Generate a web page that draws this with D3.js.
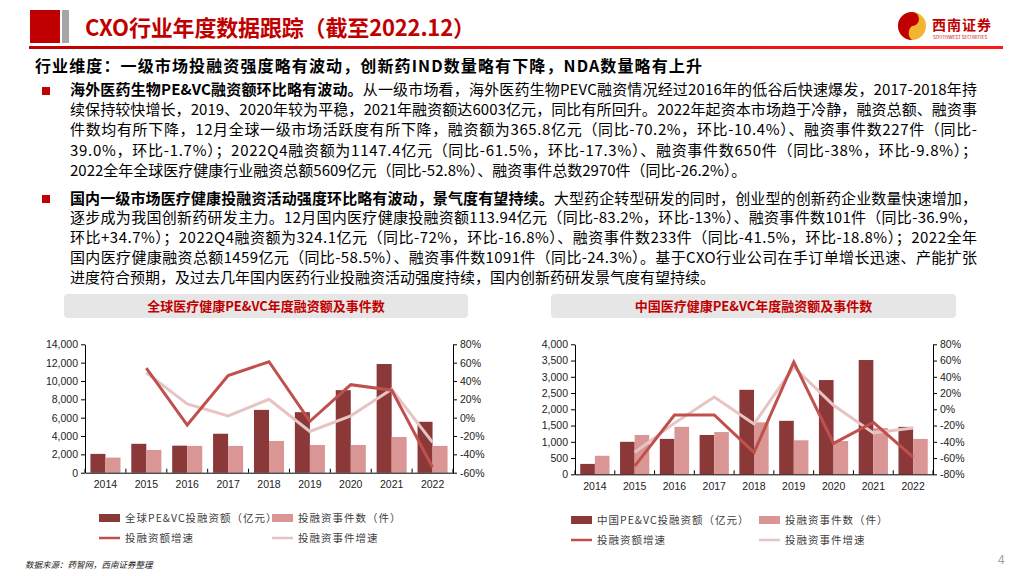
<!DOCTYPE html>
<html>
<head>
<meta charset="utf-8">
<script src="https://cdn.jsdelivr.net/npm/d3@7"></script>
<style>
  html, body { margin: 0; padding: 0; background: #fff; }
  svg text { font-family: "Noto Sans CJK SC", "Noto Sans", sans-serif; }
  .tick text { font-family: "Liberation Sans", Arial, sans-serif; font-size: 10.5px; fill: #222; }
  .legend text { font-size: 10.5px; fill: #404040; letter-spacing: 1px; }
</style>
</head>
<body>
<div id="slide"></div>
<script>
var years = ["2014", "2015", "2016", "2017", "2018", "2019", "2020", "2021", "2022"];

// global PE&VC
var globalAmount = [2050, 3150, 2950, 4250, 6850, 6600, 9000, 11850, 5550];
var globalDeals = [1650, 2480, 2920, 2920, 3460, 3020, 3020, 3890, 2920];
var globalAmountGrowth = [null, 54, -8, 46, 61, -4, 36, 30, -54];
var globalDealsGrowth = [null, 49, 15, 2, 20, -15, 2, 31, -27];

// china PE&VC
var chinaAmount = [320, 1000, 1090, 1210, 2600, 1645, 2900, 3516, 1459];
var chinaDeals = [570, 1210, 1460, 1300, 1600, 1046, 1025, 1420, 1088];
var chinaAmountGrowth = [null, -70, -7, -7, -53, 58, -42, -16, -59];
var chinaDealsGrowth = [null, -53, -17, 15, -18, 52, 5, -29, -23];

var globalLeftTicks = [0, 2000, 4000, 6000, 8000, 10000, 12000, 14000];
var globalRightTicks = [-60, -40, -20, 0, 20, 40, 60, 80];
var chinaLeftTicks = [0, 500, 1000, 1500, 2000, 2500, 3000, 3500, 4000];
var chinaRightTicks = [-80, -60, -40, -20, 0, 20, 40, 60, 80];

var para1 = [
  ["海外医药生物PE&VC融资额环比略有波动。", "从一级市场看，海外医药生物PEVC融资情况经过2016年的低谷后快速爆发，2017-2018年持"],
  ["", "续保持较快增长，2019、2020年较为平稳，2021年融资额达6003亿元，同比有所回升。2022年起资本市场趋于冷静，融资总额、融资事"],
  ["", "件数均有所下降，12月全球一级市场活跃度有所下降，融资额为365.8亿元（同比-70.2%，环比-10.4%）、融资事件数227件（同比-"],
  ["", "39.0%，环比-1.7%）；2022Q4融资额为1147.4亿元（同比-61.5%，环比-17.3%）、融资事件数650件（同比-38%，环比-9.8%）；"],
  ["", "2022全年全球医疗健康行业融资总额5609亿元（同比-52.8%）、融资事件总数2970件（同比-26.2%）。"]
];
var para2 = [
  ["国内一级市场医疗健康投融资活动强度环比略有波动，景气度有望持续。", "大型药企转型研发的同时，创业型的创新药企业数量快速增加，"],
  ["", "逐步成为我国创新药研发主力。12月国内医疗健康投融资额113.94亿元（同比-83.2%，环比-13%）、融资事件数101件（同比-36.9%，"],
  ["", "环比+34.7%）；2022Q4融资额为324.1亿元（同比-72%，环比-16.8%）、融资事件数233件（同比-41.5%，环比-18.8%）；2022全年"],
  ["", "国内医疗健康融资总额1459亿元（同比-58.5%）、融资事件数1091件（同比-24.3%）。基于CXO行业公司在手订单增长迅速、产能扩张"],
  ["", "进度符合预期，及过去几年国内医药行业投融资活动强度持续，国内创新药研发景气度有望持续。"]
];

var darkBar = "#8b3839", lightBar = "#d99695", darkLine = "#c0504d", lightLine = "#e6c4c3";

var svg = d3.select("#slide").append("svg")
    .attr("width", 1024)
    .attr("height", 576);

// ---- header ----
svg.append("rect").attr("x", 30).attr("y", 10).attr("width", 30).attr("height", 33).attr("fill", "#c00000");
svg.append("rect").attr("x", 62).attr("y", 10).attr("width", 7).attr("height", 33).attr("fill", "#a6a6a6");
svg.append("text")
    .attr("x", 85).attr("y", 36)
    .attr("font-size", 22).attr("font-weight", "bold").attr("fill", "#c00000")
    .attr("textLength", 390).attr("lengthAdjust", "spacing")
    .text("CXO行业年度数据跟踪（截至2022.12）");

var grad = svg.append("defs").append("linearGradient").attr("id", "hline");
grad.append("stop").attr("offset", "0%").attr("stop-color", "#c00000");
grad.append("stop").attr("offset", "100%").attr("stop-color", "#ff1a1a");
svg.append("rect").attr("x", 29).attr("y", 46).attr("width", 974).attr("height", 3).attr("fill", "url(#hline)");

// logo
svg.append("circle").attr("cx", 912).attr("cy", 26).attr("r", 14).attr("fill", "#f2b531");
svg.append("path")
    .attr("d", "M912,12 A14,14 0 0,0 912,40 A9,9 0 0,1 912,26 A7,7 0 0,0 912,12 Z")
    .attr("fill", "#c00000");
svg.append("text").attr("x", 932).attr("y", 30)
    .attr("font-size", 14).attr("font-weight", "bold").attr("fill", "#c00000")
    .attr("letter-spacing", 1)
    .text("西南证券");
svg.append("text").attr("x", 933).attr("y", 39)
    .attr("font-size", 4.6).attr("fill", "#c00000")
    .attr("font-family", "Liberation Sans")
    .text("SOUTHWEST SECURITIES");

// ---- text block ----
svg.append("text")
    .attr("x", 35).attr("y", 72)
    .attr("font-size", 16).attr("font-weight", "bold").attr("fill", "#000")
    .attr("textLength", 667).attr("lengthAdjust", "spacing")
    .text("行业维度：一级市场投融资强度略有波动，创新药IND数量略有下降，NDA数量略有上升");

function paragraph(lines, y0, step, bulletY) {
    svg.append("rect").attr("x", 42).attr("y", bulletY).attr("width", 8).attr("height", 8).attr("fill", "#c00000");
    lines.forEach(function(l, i) {
        var t = svg.append("text")
            .attr("x", 70).attr("y", y0 + i * step)
            .attr("font-size", 15).attr("fill", "#000");
        if (l[0]) t.append("tspan").attr("font-weight", "bold").text(l[0]);
        t.append("tspan").text(l[1]);
        if (i < lines.length - 1) {
            t.attr("textLength", 907).attr("lengthAdjust", "spacing");
        }
    });
}
paragraph(para1, 95, 20.2, 87);
paragraph(para2, 203.5, 19.8, 195);

// ---- charts ----
function drawChart(opt) {
    var g = svg.append("g");

    g.append("rect")
        .attr("x", opt.box[0]).attr("y", 294)
        .attr("width", opt.box[1] - opt.box[0]).attr("height", 24)
        .attr("rx", 4).attr("fill", "#e7e6e6");
    g.append("text")
        .attr("x", (opt.box[0] + opt.box[1]) / 2).attr("y", 311)
        .attr("text-anchor", "middle")
        .attr("font-size", 13).attr("font-weight", "bold").attr("fill", "#c00000")
        .text(opt.title);

    var x = d3.scaleBand().domain(years).range(opt.xr);
    var sub = d3.scaleBand().domain([0, 1]).range([0, x.bandwidth()]).paddingOuter(0.36);
    var yL = d3.scaleLinear().domain(opt.leftDomain).range(opt.yr);
    var yR = d3.scaleLinear().domain(opt.rightDomain).range(opt.yr);

    // bars
    [opt.amount, opt.deals].forEach(function(series, s) {
        g.append("g").selectAll("rect")
            .data(series)
            .enter()
            .append("rect")
            .attr("x", (d, i) => x(years[i]) + sub(s))
            .attr("y", (d) => yL(d))
            .attr("width", sub.bandwidth())
            .attr("height", (d) => yL(0) - yL(d))
            .attr("fill", s === 0 ? darkBar : lightBar);
    });

    // growth lines
    var line = d3.line()
        .defined((d) => d !== null)
        .x((d, i) => x(years[i]) + x.bandwidth() / 2)
        .y((d) => yR(d));
    g.append("path").datum(opt.dealsGrowth)
        .attr("d", line).attr("fill", "none")
        .attr("stroke", lightLine).attr("stroke-width", 3);
    g.append("path").datum(opt.amountGrowth)
        .attr("d", line).attr("fill", "none")
        .attr("stroke", darkLine).attr("stroke-width", 3);

    // axes
    var left = g.append("g")
        .attr("transform", "translate(" + opt.xr[0] + ",0)")
        .call(d3.axisLeft(yL).tickValues(opt.leftTicks).tickFormat(d3.format(",")).tickSize(4).tickSizeOuter(0).tickPadding(3));
    var right = g.append("g")
        .attr("transform", "translate(" + opt.xr[1] + ",0)")
        .call(d3.axisRight(yR).tickValues(opt.rightTicks).tickFormat((d) => d + "%").tickSize(4).tickSizeOuter(0).tickPadding(3));
    var bottom = g.append("g")
        .attr("transform", "translate(0," + opt.yr[0] + ")")
        .call(d3.axisBottom(x).tickSize(0).tickPadding(8));
    bottom.selectAll(".tick text").attr("font-size", 10);

    g.append("g").selectAll("line")
        .data(years.concat(["end"]))
        .enter()
        .append("line")
        .attr("x1", (d, i) => opt.xr[0] + i * x.step())
        .attr("x2", (d, i) => opt.xr[0] + i * x.step())
        .attr("y1", opt.yr[0])
        .attr("y2", opt.yr[0] - 4)
        .attr("stroke", "#000");

    [left, right, bottom].forEach(function(a) {
        a.selectAll(".domain, .tick line").attr("stroke", "#000");
    });

    // legend
    var lg = g.append("g").attr("class", "legend");
    var lx = opt.legendX;
    lg.append("rect").attr("x", lx[0]).attr("y", opt.legendY - 4).attr("width", 21).attr("height", 8).attr("fill", darkBar);
    lg.append("text").attr("x", lx[0] + 26).attr("y", opt.legendY + 4).text(opt.legendName);
    lg.append("rect").attr("x", lx[1]).attr("y", opt.legendY - 4).attr("width", 21).attr("height", 8).attr("fill", lightBar);
    lg.append("text").attr("x", lx[1] + 26).attr("y", opt.legendY + 4).text("投融资事件数（件）");
    lg.append("line").attr("x1", lx[0]).attr("x2", lx[0] + 21)
        .attr("y1", opt.legendY + 20).attr("y2", opt.legendY + 20)
        .attr("stroke", darkLine).attr("stroke-width", 2.5);
    lg.append("text").attr("x", lx[0] + 26).attr("y", opt.legendY + 24).text("投融资额增速");
    lg.append("line").attr("x1", lx[1]).attr("x2", lx[1] + 21)
        .attr("y1", opt.legendY + 20).attr("y2", opt.legendY + 20)
        .attr("stroke", lightLine).attr("stroke-width", 2.5);
    lg.append("text").attr("x", lx[1] + 26).attr("y", opt.legendY + 24).text("投融资事件增速");
}

drawChart({
    title: "全球医疗健康PE&VC年度融资额及事件数",
    box: [64, 468],
    xr: [85, 453],
    yr: [472.7, 344.3],
    leftDomain: [0, 14000],
    rightDomain: [-60, 80],
    leftTicks: globalLeftTicks,
    rightTicks: globalRightTicks,
    amount: globalAmount,
    deals: globalDeals,
    amountGrowth: globalAmountGrowth,
    dealsGrowth: globalDealsGrowth,
    legendName: "全球PE&VC投融资额（亿元）",
    legendX: [99, 272],
    legendY: 518
});

drawChart({
    title: "中国医疗健康PE&VC年度融资额及事件数",
    box: [551, 956],
    xr: [575, 933],
    yr: [474.3, 344.3],
    leftDomain: [0, 4000],
    rightDomain: [-80, 80],
    leftTicks: chinaLeftTicks,
    rightTicks: chinaRightTicks,
    amount: chinaAmount,
    deals: chinaDeals,
    amountGrowth: chinaAmountGrowth,
    dealsGrowth: chinaDealsGrowth,
    legendName: "中国PE&VC投融资额（亿元）",
    legendX: [571, 759],
    legendY: 520
});

// ---- footer ----
svg.append("text")
    .attr("x", 25).attr("y", 568)
    .attr("font-size", 8.5).attr("font-style", "italic").attr("fill", "#222")
    .text("数据来源：药智网，西南证券整理");
svg.append("text")
    .attr("x", 998).attr("y", 564)
    .attr("font-size", 12).attr("fill", "#a0a0a0")
    .attr("font-family", "Liberation Sans")
    .text("4");
</script>
</body>
</html>
